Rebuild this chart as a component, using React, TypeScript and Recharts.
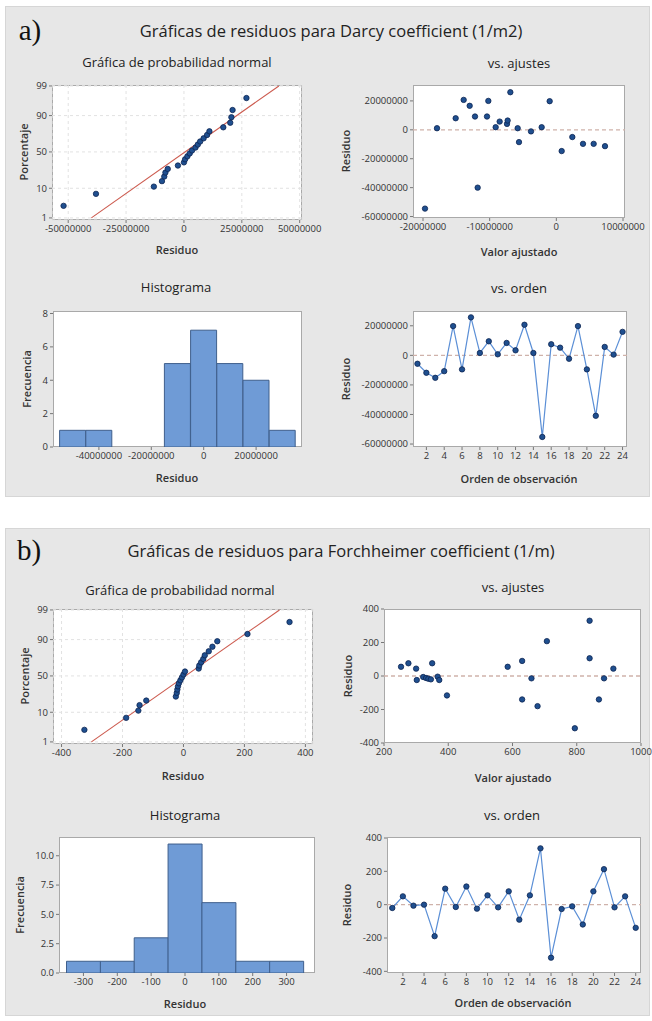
import React from 'react';
import {
  ComposedChart,
  BarChart,
  Bar,
  Scatter,
  Line,
  XAxis,
  YAxis,
  ReferenceLine,
  CartesianGrid,
} from 'recharts';

// ---------------- DATA ----------------
// shared
const observations = [1, 2, 3, 4, 5, 6, 7, 8, 9, 10, 11, 12, 13, 14, 15, 16, 17, 18, 19, 20, 21, 22, 23, 24];
const orderTicks = [2, 4, 6, 8, 10, 12, 14, 16, 18, 20, 22, 24];
const probPct = [2.87, 6.97, 11.07, 15.16, 19.26, 23.36, 27.46, 31.56, 35.66, 39.75, 43.85, 47.95, 52.05, 56.15, 60.25, 64.34, 68.44, 72.54, 76.64, 80.74, 84.84, 88.93, 93.03, 97.13];
const probTickLabels = [1, 10, 50, 90, 99];
const fitLinePct = [1, 99];

// a) Darcy coefficient
const darcyProbResid = [-52000000, -38000000, -13000000, -9500000, -8500000, -8000000, -7000000, -2600000, 0, 500000, 1500000, 2500000, 3500000, 5000000, 6000000, 7000000, 8500000, 10000000, 11000000, 17000000, 20000000, 20500000, 21000000, 27000000];
const darcyFitLineResid = [-40000000, 41000000];
const darcyProbXTicks = [-50000000, -25000000, 0, 25000000, 50000000];

const darcyFitted = [-19700000, -17900000, -15100000, -13900000, -13000000, -12200000, -11800000, -10400000, -10200000, -9100000, -8500000, -7400000, -7300000, -6900000, -5800000, -5600000, -3800000, -2200000, -1000000, 800000, 2400000, 4000000, 5600000, 7300000];
const darcyFitResid = [-54500000, 1100000, 8000000, 20700000, 16600000, 9200000, -40000000, 9200000, 20000000, 1800000, 5700000, 4100000, 6400000, 26000000, 1100000, -8500000, -1100000, 1800000, 19800000, -14700000, -5000000, -9700000, -9700000, -11300000];
const darcyFitXTicks = [-20000000, -10000000, 0, 10000000];
const darcyResidTicks = [-60000000, -40000000, -20000000, 0, 20000000];

const darcyHistBins = [-50000000, -40000000, -30000000, -20000000, -10000000, 0, 10000000, 20000000, 30000000];
const darcyHistCounts = [1, 1, 0, 0, 5, 7, 5, 4, 1];
const darcyHistXTicks = [-40000000, -20000000, 0, 20000000];
const darcyHistYTicks = [0, 2, 4, 6, 8];

const darcyOrderResid = [-5700000, -11800000, -15200000, -10700000, 19800000, -9500000, 25700000, 1600000, 9500000, 700000, 8400000, 3400000, 20700000, 1600000, -55200000, 7500000, 5200000, -2300000, 19800000, -9500000, -40900000, 5700000, 500000, 15900000];

// b) Forchheimer coefficient
const forchProbResid = [-325, -188, -148, -144, -122, -25, -22, -20, -18, -15, -10, -5, 0, 5, 50, 52, 58, 65, 70, 83, 95, 111, 210, 348];
const forchFitLineResid = [-302, 315];
const forchProbXTicks = [-400, -200, 0, 200, 400];

const forchFitted = [253, 276, 300, 302, 322, 331, 338, 346, 350, 367, 372, 396, 585, 630, 630, 659, 678, 707, 794, 840, 840, 869, 885, 914];
const forchFitResid = [55, 76, 44, -24, -6, -12, -16, -20, 76, -4, -24, -116, 55, 90, -140, -14, -180, 208, -312, 330, 106, -140, -14, 44];
const forchFitXTicks = [200, 400, 600, 800, 1000];
const forchResidTicks = [-400, -200, 0, 200, 400];

const forchHistBins = [-300, -200, -100, 0, 100, 200, 300];
const forchHistCounts = [1, 1, 3, 11, 6, 1, 1];
const forchHistYTicks = [0, 2.5, 5, 7.5, 10];

const forchOrderResid = [-20, 50, -6, 0, -189, 96, -14, 109, -24, 56, -16, 80, -90, 56, 338, -318, -26, -10, -119, 80, 213, -16, 50, -139];

// ---------------- helpers ----------------
function invNorm(p: number): number {
  const a = [-3.969683028665376e1, 2.209460984245205e2, -2.759285104469687e2, 1.38357751867269e2, -3.066479806614716e1, 2.506628277459239];
  const b = [-5.447609879822406e1, 1.615858368580409e2, -1.556989798598866e2, 6.680131188771972e1, -1.328068155288572e1];
  const c = [-7.784894002430293e-3, -3.223964580411365e-1, -2.400758277161838, -2.549732539343734, 4.374664141464968, 2.938163982698783];
  const d = [7.784695709041462e-3, 3.224671290700398e-1, 2.445134137142996, 3.754408661907416];
  const pl = 0.02425;
  if (p < pl) {
    const q = Math.sqrt(-2 * Math.log(p));
    return (((((c[0] * q + c[1]) * q + c[2]) * q + c[3]) * q + c[4]) * q + c[5]) / ((((d[0] * q + d[1]) * q + d[2]) * q + d[3]) * q + 1);
  }
  if (p > 1 - pl) {
    const q = Math.sqrt(-2 * Math.log(1 - p));
    return -(((((c[0] * q + c[1]) * q + c[2]) * q + c[3]) * q + c[4]) * q + c[5]) / ((((d[0] * q + d[1]) * q + d[2]) * q + d[3]) * q + 1);
  }
  const q = p - 0.5;
  const r = q * q;
  return ((((((a[0] * r + a[1]) * r + a[2]) * r + a[3]) * r + a[4]) * r + a[5]) * q) / (((((b[0] * r + b[1]) * r + b[2]) * r + b[3]) * r + b[4]) * r + 1);
}

const FONT = '"Open Sans", "Noto Sans", sans-serif';
const PAD_L = 60;
const PAD_T = 10;
const PAD_R = 34;
const PAD_B = 28;
const DOT_FILL = '#1f4f8f';
const DOT_STROKE = '#0c2552';
const ZERO_LINE = '#cfb2aa';
const tickStyle = { fontSize: 9.5, fill: '#333', fontFamily: FONT, fontWeight: 500 };

type Box = { L: number; T: number; R: number; B: number };

const Dot = (p: any) =>
  p.cx == null ? null : <circle key={p.key ?? p.index} cx={p.cx} cy={p.cy} r={2.7} fill={DOT_FILL} stroke={DOT_STROKE} strokeWidth={0.8} />;

function Plot({ box, render }: { box: Box; render: (w: number, h: number) => React.ReactNode }) {
  const W = box.R - box.L;
  const H = box.B - box.T;
  return (
    <>
      <div
        style={{
          position: 'absolute',
          left: box.L,
          top: box.T,
          width: W,
          height: H,
          background: '#ffffff',
          border: '1px solid #a9a9a9',
          boxSizing: 'border-box',
        }}
      />
      <div style={{ position: 'absolute', left: box.L - PAD_L, top: box.T - PAD_T }}>
        {render(W + PAD_L + PAD_R, H + PAD_T + PAD_B)}
      </div>
    </>
  );
}

const margin = { top: PAD_T, right: PAD_R, bottom: 0, left: 0 };
const xCommon: any = { axisLine: false, tickLine: { stroke: '#777' }, tickSize: 3, height: PAD_B, interval: 0, tick: tickStyle };
const yCommon: any = { axisLine: false, tickLine: { stroke: '#777' }, tickSize: 3, width: PAD_L, interval: 0, tick: tickStyle };

function Txt({ x, y, size, children, rot, family, color, weight }: any) {
  return (
    <div
      style={{
        position: 'absolute',
        left: x,
        top: y,
        transform: `translate(-50%, -50%)${rot ? ' rotate(-90deg)' : ''}`,
        whiteSpace: 'nowrap',
        fontSize: size,
        fontFamily: family || FONT,
        fontWeight: weight || 400,
        color: color || '#222',
        lineHeight: 1,
      }}
    >
      {children}
    </div>
  );
}

const Sub = (p: any) => <Txt size={13} weight={500} {...p} />;
const Lab = (p: any) => <Txt size={11} weight={600} color="#333" {...p} />;

// ---------------- chart blocks ----------------
function ProbPlot({ box, resid, fitResid, xDomain, xTicks }: any) {
  const pts = resid.map((r: number, i: number) => ({ x: r, z: invNorm(probPct[i] / 100) }));
  const line = fitResid.map((r: number, i: number) => ({ x: r, z: invNorm(fitLinePct[i] / 100) }));
  const yTicks = probTickLabels.map((p) => invNorm(p / 100));
  const fmt = (v: number) => {
    let best = 0;
    yTicks.forEach((t, i) => {
      if (Math.abs(t - v) < Math.abs(yTicks[best] - v)) best = i;
    });
    return String(probTickLabels[best]);
  };
  return (
    <Plot
      box={box}
      render={(w, h) => (
        <ComposedChart width={w} height={h} margin={margin}>
          <CartesianGrid stroke="#e2e2e2" strokeDasharray="3 3" />
          <XAxis {...xCommon} type="number" dataKey="x" domain={xDomain} ticks={xTicks} allowDataOverflow />
          <YAxis {...yCommon} type="number" dataKey="z" domain={[-2.4, 2.36]} ticks={yTicks} tickFormatter={fmt} allowDataOverflow />
          <Line data={line} dataKey="z" stroke="#cc5a4e" strokeWidth={1.1} dot={false} isAnimationActive={false} />
          <Scatter data={pts} dataKey="z" shape={Dot} isAnimationActive={false} />
        </ComposedChart>
      )}
    />
  );
}

function FitPlot({ box, fitted, resid, xDomain, xTicks, yDomain, yTicks }: any) {
  const pts = fitted.map((f: number, i: number) => ({ fit: f, res: resid[i] }));
  return (
    <Plot
      box={box}
      render={(w, h) => (
        <ComposedChart width={w} height={h} margin={margin}>
          <XAxis {...xCommon} type="number" dataKey="fit" domain={xDomain} ticks={xTicks} allowDataOverflow />
          <YAxis {...yCommon} type="number" dataKey="res" domain={yDomain} ticks={yTicks} allowDataOverflow />
          <ReferenceLine y={0} stroke={ZERO_LINE} strokeDasharray="4 3" strokeWidth={1.3} />
          <Scatter data={pts} dataKey="res" shape={Dot} isAnimationActive={false} />
        </ComposedChart>
      )}
    />
  );
}

function HistPlot({ box, bins, counts, xTicks, yDomain, yTicks, padL, padR, yFmt }: any) {
  const data = bins.map((b: number, i: number) => ({ bin: b, count: counts[i] }));
  return (
    <Plot
      box={box}
      render={(w, h) => (
        <BarChart width={w} height={h} margin={margin} data={data} barCategoryGap={0} barGap={0}>
          <XAxis {...xCommon} type="category" dataKey="bin" ticks={xTicks} padding={{ left: padL, right: padR }} />
          <YAxis {...yCommon} type="number" domain={yDomain} ticks={yTicks} tickFormatter={yFmt} allowDataOverflow />
          <Bar dataKey="count" fill="#6f9bd6" stroke="#3f5f8c" strokeWidth={1} isAnimationActive={false} />
        </BarChart>
      )}
    />
  );
}

function OrderPlot({ box, resid, yDomain, yTicks }: any) {
  const data = observations.map((o, i) => ({ obs: o, res: resid[i] }));
  return (
    <Plot
      box={box}
      render={(w, h) => (
        <ComposedChart width={w} height={h} margin={margin} data={data}>
          <XAxis {...xCommon} type="number" dataKey="obs" domain={[0.5, 24.5]} ticks={orderTicks} allowDataOverflow />
          <YAxis {...yCommon} type="number" domain={yDomain} ticks={yTicks} allowDataOverflow />
          <ReferenceLine y={0} stroke={ZERO_LINE} strokeDasharray="4 3" strokeWidth={1.3} />
          <Line type="linear" dataKey="res" stroke="#5b8fd6" strokeWidth={1.2} dot={Dot} isAnimationActive={false} />
        </ComposedChart>
      )}
    />
  );
}

// ---------------- App ----------------
export default function App() {
  const panel = (top: number, bottom: number) => (
    <div
      style={{
        position: 'absolute',
        left: 5,
        top,
        width: 645,
        height: bottom - top,
        background: '#e7e7e7',
        border: '1px solid #d6d6d6',
        boxSizing: 'border-box',
      }}
    />
  );
  return (
    <div style={{ position: 'absolute', left: 0, top: 0, width: 652, height: 1021, background: '#ffffff', fontFamily: FONT, overflow: 'hidden' }}>
      {panel(6, 497)}
      {panel(528, 1016)}

      {/* ---------- a) ---------- */}
      <Txt x={30} y={30} size={29} family='"Liberation Serif", serif' color="#111">a)</Txt>
      <Txt x={331} y={31} size={16.5}>Gráficas de residuos para Darcy coefficient (1/m2)</Txt>

      <Sub x={177} y={62}>Gráfica de probabilidad normal</Sub>
      <ProbPlot box={{ L: 52, T: 85, R: 302, B: 220 }} resid={darcyProbResid} fitResid={darcyFitLineResid} xDomain={[-57000000, 51000000]} xTicks={darcyProbXTicks} />
      <Lab x={177} y={249}>Residuo</Lab>
      <Lab x={23} y={152} rot>Porcentaje</Lab>

      <Sub x={519} y={63}>vs. ajustes</Sub>
      <FitPlot box={{ L: 413, T: 85, R: 625, B: 218 }} fitted={darcyFitted} resid={darcyFitResid} xDomain={[-21500000, 10300000]} xTicks={darcyFitXTicks} yDomain={[-61000000, 31000000]} yTicks={darcyResidTicks} />
      <Lab x={519} y={251}>Valor ajustado</Lab>
      <Lab x={345} y={151} rot>Residuo</Lab>

      <Sub x={176} y={287}>Histograma</Sub>
      <HistPlot box={{ L: 53, T: 311, R: 302, B: 447 }} bins={darcyHistBins} counts={darcyHistCounts} xTicks={darcyHistXTicks} yDomain={[0, 8.15]} yTicks={darcyHistYTicks} padL={6.6} padR={6.6} />
      <Lab x={177} y={477}>Residuo</Lab>
      <Lab x={26} y={379} rot>Frecuencia</Lab>

      <Sub x={519} y={288}>vs. orden</Sub>
      <OrderPlot box={{ L: 413, T: 311, R: 627, B: 447 }} resid={darcyOrderResid} yDomain={[-62000000, 30000000]} yTicks={darcyResidTicks} />
      <Lab x={519} y={478}>Orden de observación</Lab>
      <Lab x={345} y={379} rot>Residuo</Lab>

      {/* ---------- b) ---------- */}
      <Txt x={29} y={550} size={29} family='"Liberation Serif", serif' color="#111">b)</Txt>
      <Txt x={341} y={551} size={16.5}>Gráficas de residuos para Forchheimer coefficient (1/m)</Txt>

      <Sub x={180} y={590}>Gráfica de probabilidad normal</Sub>
      <ProbPlot box={{ L: 53, T: 609, R: 313, B: 744 }} resid={forchProbResid} fitResid={forchFitLineResid} xDomain={[-428, 425]} xTicks={forchProbXTicks} />
      <Lab x={183} y={775}>Residuo</Lab>
      <Lab x={24} y={676} rot>Porcentaje</Lab>

      <Sub x={513} y={587}>vs. ajustes</Sub>
      <FitPlot box={{ L: 384, T: 609, R: 641, B: 743 }} fitted={forchFitted} resid={forchFitResid} xDomain={[200, 1000]} xTicks={forchFitXTicks} yDomain={[-400, 400]} yTicks={forchResidTicks} />
      <Lab x={513} y={777}>Valor ajustado</Lab>
      <Lab x={347} y={676} rot>Residuo</Lab>

      <Sub x={185} y={815}>Histograma</Sub>
      <HistPlot box={{ L: 59, T: 837, R: 315, B: 973 }} bins={forchHistBins} counts={forchHistCounts} xTicks={forchHistBins} yDomain={[0, 11.6]} yTicks={forchHistYTicks} padL={7.5} padR={11.5} yFmt={(v: number) => v.toFixed(1)} />
      <Lab x={185} y={1003}>Residuo</Lab>
      <Lab x={19} y={905} rot>Frecuencia</Lab>

      <Sub x={512} y={815}>vs. orden</Sub>
      <OrderPlot box={{ L: 387, T: 837, R: 641, B: 973 }} resid={forchOrderResid} yDomain={[-410, 406]} yTicks={forchResidTicks} />
      <Lab x={513} y={1002}>Orden de observación</Lab>
      <Lab x={346} y={905} rot>Residuo</Lab>
    </div>
  );
}
